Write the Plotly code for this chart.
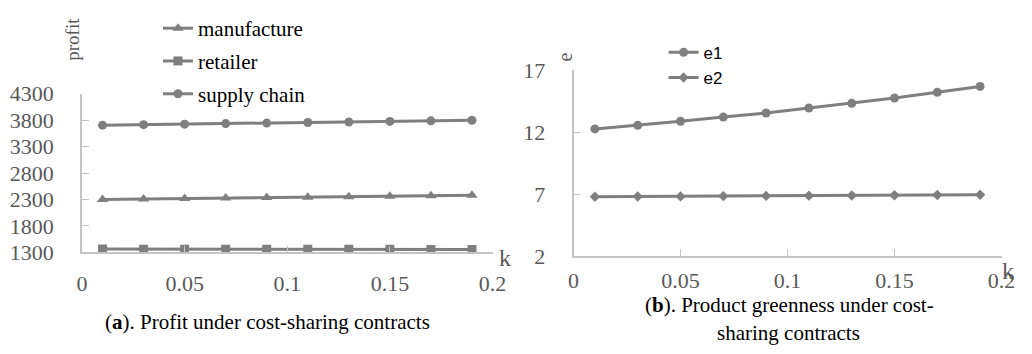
import plotly.graph_objects as go

k = [0.01, 0.03, 0.05, 0.07, 0.09, 0.11, 0.13, 0.15, 0.17, 0.19]
manufacture = [2300, 2309, 2318, 2327, 2336, 2345, 2354, 2363, 2372, 2382]
retailer = [1362, 1361, 1361, 1360, 1360, 1359, 1359, 1358, 1357, 1356]
supply_chain = [3706, 3716, 3726, 3736, 3746, 3756, 3766, 3777, 3788, 3800]
e1 = [12.27, 12.56, 12.89, 13.23, 13.56, 13.96, 14.34, 14.77, 15.23, 15.71]
e2 = [6.78, 6.80, 6.81, 6.83, 6.85, 6.87, 6.89, 6.91, 6.93, 6.95]

xticks = [0, 0.05, 0.1, 0.15, 0.2]
xticklabels = ["0", "0.05", "0.1", "0.15", "0.2"]
yticks_a = [1300, 1800, 2300, 2800, 3300, 3800, 4300]
yticks_b = [2, 7, 12, 17]

LINE = "#7f7f7f"
AX = "#c4c4c4"
TICKC = "#595959"
SERIF = "Liberation Serif, Times New Roman, serif"
SANS = "Liberation Sans, Arial, sans-serif"

# page body has an 8px margin; figure sized to fit the window
W, H, OFF = 1024, 346, 8


def fx(px):
    return (px - OFF) / W


def fy(py):
    return 1 - (py - OFF) / H


fig = go.Figure()

fig.add_trace(go.Scatter(x=k, y=manufacture, name="manufacture", mode="lines+markers",
                         line=dict(color=LINE, width=3), marker=dict(symbol="triangle-up", size=10, color=LINE),
                         xaxis="x", yaxis="y", legend="legend", legendgroup="a1"))
fig.add_trace(go.Scatter(x=k, y=retailer, name="retailer", mode="lines+markers",
                         line=dict(color=LINE, width=3), marker=dict(symbol="square", size=9, color=LINE),
                         xaxis="x", yaxis="y", legend="legend", legendgroup="a2"))
fig.add_trace(go.Scatter(x=k, y=supply_chain, name="supply chain", mode="lines+markers",
                         line=dict(color=LINE, width=3), marker=dict(symbol="circle", size=9, color=LINE),
                         xaxis="x", yaxis="y", legend="legend", legendgroup="a3"))
fig.add_trace(go.Scatter(x=k, y=e1, name="e1", mode="lines+markers",
                         line=dict(color=LINE, width=3), marker=dict(symbol="circle", size=9, color=LINE),
                         xaxis="x2", yaxis="y2", legend="legend2", legendgroup="b1"))
fig.add_trace(go.Scatter(x=k, y=e2, name="e2", mode="lines+markers",
                         line=dict(color=LINE, width=3), marker=dict(symbol="diamond", size=8, color=LINE),
                         xaxis="x2", yaxis="y2", legend="legend2", legendgroup="b2"))

common_x = dict(range=[0, 0.2], tickvals=xticks, ticktext=xticklabels, showgrid=False, zeroline=False,
                showline=True, linecolor=AX, linewidth=1.5, ticks="inside", ticklen=7, tickcolor=AX,
                tickfont=dict(family=SERIF, size=22, color=TICKC), automargin=False)
common_y = dict(showgrid=False, zeroline=False, showline=True, linecolor=AX, linewidth=1.5,
                ticks="inside", ticklen=7, tickcolor=AX,
                tickfont=dict(family=SERIF, size=22, color=TICKC), ticklabelstandoff=22, automargin=False)

fig.update_layout(
    template="none",
    width=W, height=H, margin=dict(l=0, r=0, t=0, b=0, pad=0),
    paper_bgcolor="white", plot_bgcolor="white",
    xaxis=dict(domain=[fx(82), fx(492.5)], anchor="y", ticklabelstandoff=10, **common_x),
    yaxis=dict(domain=[fy(251.5), fy(91.5)], anchor="x", range=[1300, 4300], tickvals=yticks_a, **common_y),
    xaxis2=dict(domain=[fx(573.5), fx(1001.5)], anchor="y2", ticklabelstandoff=4, **common_x),
    yaxis2=dict(domain=[fy(255), fy(68)], anchor="x2", range=[2, 17], tickvals=yticks_b, **common_y),
    legend=dict(x=fx(158), y=fy(5), xanchor="left", yanchor="top", bgcolor="rgba(0,0,0,0)",
                font=dict(family=SERIF, size=21, color="black"), traceorder="grouped", tracegroupgap=2.5,
                itemwidth=30),
    legend2=dict(x=fx(663.6), y=fy(32), xanchor="left", yanchor="top", bgcolor="rgba(0,0,0,0)",
                 font=dict(family=SANS, size=17, color="black"), traceorder="grouped", tracegroupgap=0,
                 itemwidth=30),
    showlegend=True,
)

ann = [
    dict(text="k", x=505, y=257, font=dict(family=SERIF, size=24, color=TICKC)),
    dict(text="k", x=1008, y=270, font=dict(family=SERIF, size=24, color=TICKC)),
    dict(text="profit", x=73, y=37, textangle=-90, font=dict(family=SERIF, size=19, color=TICKC)),
    dict(text="e", x=565, y=55, textangle=-90, font=dict(family=SERIF, size=20, color=TICKC)),
    dict(text="(<b>a</b>). Profit under cost-sharing contracts", x=267, y=322,
         font=dict(family=SERIF, size=21, color="black")),
    dict(text="(<b>b</b>). Product greenness under cost-", x=789, y=305,
         font=dict(family=SERIF, size=21, color="black")),
    dict(text="sharing contracts", x=788, y=333,
         font=dict(family=SERIF, size=21, color="black")),
]
for a in ann:
    fig.add_annotation(xref="paper", yref="paper", x=fx(a["x"]), y=fy(a["y"]),
                       text=a["text"], showarrow=False, xanchor="center", yanchor="middle",
                       textangle=a.get("textangle", 0), font=a["font"])

fig.write_html("out.html")
